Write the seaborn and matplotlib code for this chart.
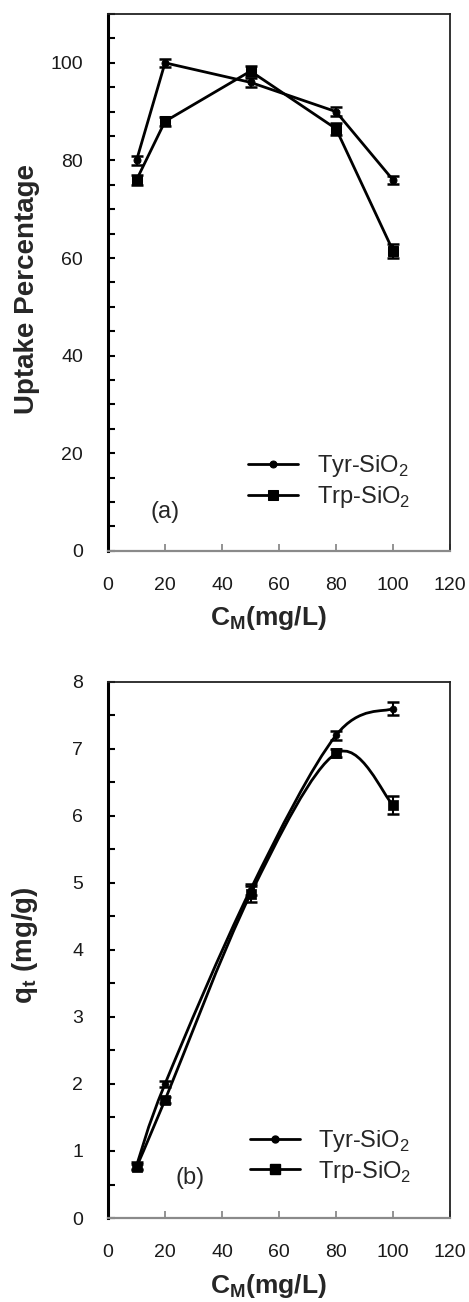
import numpy as np
import pandas as pd
import matplotlib
matplotlib.use('Agg')
import matplotlib.pyplot as plt
from matplotlib.path import Path
from matplotlib.patches import PathPatch
from matplotlib.lines import Line2D
from matplotlib.ticker import MultipleLocator
import seaborn as sns

# Datos
conc = [10, 20, 50, 80, 100]

tyr_uptake = [80.0, 100.0, 96.0, 90.0, 76.0]
trp_uptake = [76.0, 88.0, 98.3, 86.5, 61.5]
tyr_uptake_err = [1.0, 0.8, 0.9, 0.9, 0.9]
trp_uptake_err = [1.0, 0.9, 1.0, 1.2, 1.4]

tyr_qt = [0.78, 2.0, 4.9, 7.2, 7.6]
trp_qt = [0.76, 1.76, 4.83, 6.93, 6.16]
tyr_qt_err = [0.05, 0.05, 0.08, 0.07, 0.10]
trp_qt_err = [0.05, 0.05, 0.12, 0.06, 0.13]

series_labels = ['Tyr-SiO$_\\mathregular{2}$', 'Trp-SiO$_\\mathregular{2}$']

sns.set_theme(style='white')
plt.rcParams['font.family'] = ['Liberation Sans', 'DejaVu Sans']
plt.rcParams['mathtext.fontset'] = 'custom'
plt.rcParams['mathtext.rm'] = 'Liberation Sans'
plt.rcParams['mathtext.bf'] = 'Liberation Sans:bold'


def curva_suave(x, y):
    '''
    Curva suavizada tipo Excel (Bezier cubica por tramos) que pasa por los puntos.
    '''
    p = np.column_stack([x, y]).astype(float)
    n = len(p)
    verts = [p[0]]
    codes = [Path.MOVETO]
    for i in range(n - 1):
        prev = p[i - 1] if i > 0 else p[i]
        nxt = p[i + 2] if i + 2 < n else p[i + 1]
        c1 = p[i] + (p[i + 1] - prev) / 6
        c2 = p[i + 1] - (nxt - p[i]) / 6
        verts += [c1, c2, p[i + 1]]
        codes += [Path.CURVE4] * 3
    return Path(verts, codes)


def estilo_ejes(ax, ymax, ymajor, yminor, xlabel, ylabel, ylab_y):
    ax.set_xlim(0, 120)
    ax.set_ylim(0, ymax)
    ax.xaxis.set_major_locator(MultipleLocator(20))
    ax.yaxis.set_major_locator(MultipleLocator(ymajor))
    ax.yaxis.set_minor_locator(MultipleLocator(yminor))
    ax.tick_params(axis='y', which='both', direction='in', length=5, width=1.5,
                   color='black', left=True, pad=18, labelsize=14, labelcolor='#1a1a1a')
    ax.tick_params(axis='x', which='major', direction='in', length=5, width=1.3,
                   color='#8a8a8a', bottom=True, pad=19, labelsize=14, labelcolor='#1a1a1a')
    ax.spines['left'].set_linewidth(2.2)
    ax.spines['left'].set_color('black')
    ax.spines['bottom'].set_linewidth(1.6)
    ax.spines['bottom'].set_color('#8a8a8a')
    for s in ['top', 'right']:
        ax.spines[s].set_linewidth(1.3)
        ax.spines[s].set_color('#222222')
    ax.set_xlabel(xlabel, fontsize=19, fontweight='bold')
    ax.set_ylabel(ylabel, fontsize=20, fontweight='bold')
    ax.xaxis.set_label_coords(0.468, -0.1)
    ax.yaxis.set_label_coords(-0.2, ylab_y)


fig = plt.figure(figsize=(4.69, 13.02), dpi=100)
ax1 = fig.add_axes([0.2303, 0.577, 0.7292, 0.4122])
ax2 = fig.add_axes([0.2303, 0.0645, 0.7292, 0.4119])

# Panel (a): porcentaje de captura
sns.lineplot(x=conc, y=tyr_uptake, ax=ax1, color='black', lw=2, marker='o',
             markersize=5, markeredgecolor='black', label=series_labels[0])
sns.lineplot(x=conc, y=trp_uptake, ax=ax1, color='black', lw=2, marker='s',
             markersize=6.5, markeredgecolor='black', label=series_labels[1])
ax1.errorbar(conc, tyr_uptake, yerr=tyr_uptake_err, fmt='none', ecolor='black',
             elinewidth=1.5, capsize=4.5, capthick=1.8)
ax1.errorbar(conc, trp_uptake, yerr=trp_uptake_err, fmt='none', ecolor='black',
             elinewidth=1.5, capsize=4.5, capthick=1.8)
estilo_ejes(ax1, 110, 20, 5, r'$\mathbf{C_M}$(mg/L)', 'Uptake Percentage', 0.488)
ax1.legend(loc='center left', bbox_to_anchor=(0.41, 0.129), frameon=False,
           fontsize=17, borderpad=0, borderaxespad=0, handlelength=2.1,
           handletextpad=0.8, labelspacing=0.2)
ax1.text(0.167, 0.072, '(a)', transform=ax1.transAxes, ha='center', va='center',
         fontsize=17)

# Panel (b): q_t con curvas suavizadas
for yv in [tyr_qt, trp_qt]:
    ax2.add_patch(PathPatch(curva_suave(conc, yv), fill=False, edgecolor='black', lw=2))
sns.scatterplot(x=conc, y=tyr_qt, ax=ax2, color='black', marker='o', s=25,
                edgecolor='black', zorder=3)
sns.scatterplot(x=conc, y=trp_qt, ax=ax2, color='black', marker='s', s=42,
                edgecolor='black', zorder=3)
ax2.errorbar(conc, tyr_qt, yerr=tyr_qt_err, fmt='none', ecolor='black',
             elinewidth=1.5, capsize=4.5, capthick=1.8)
ax2.errorbar(conc, trp_qt, yerr=trp_qt_err, fmt='none', ecolor='black',
             elinewidth=1.5, capsize=4.5, capthick=1.8)
estilo_ejes(ax2, 8, 1, 0.5, r'$\mathbf{C_M}$(mg/L)', r'q$_\mathbf{t}$ (mg/g)', 0.509)
handles = [Line2D([], [], color='black', lw=2, marker='o', markersize=5),
           Line2D([], [], color='black', lw=2, marker='s', markersize=6.5)]
ax2.legend(handles, series_labels, loc='center left', bbox_to_anchor=(0.415, 0.115),
           frameon=False, fontsize=17, borderpad=0, borderaxespad=0,
           handlelength=2.1, handletextpad=0.8, labelspacing=0.2)
ax2.text(0.24, 0.075, '(b)', transform=ax2.transAxes, ha='center', va='center',
         fontsize=17)

fig.savefig('out.png', dpi=100)
